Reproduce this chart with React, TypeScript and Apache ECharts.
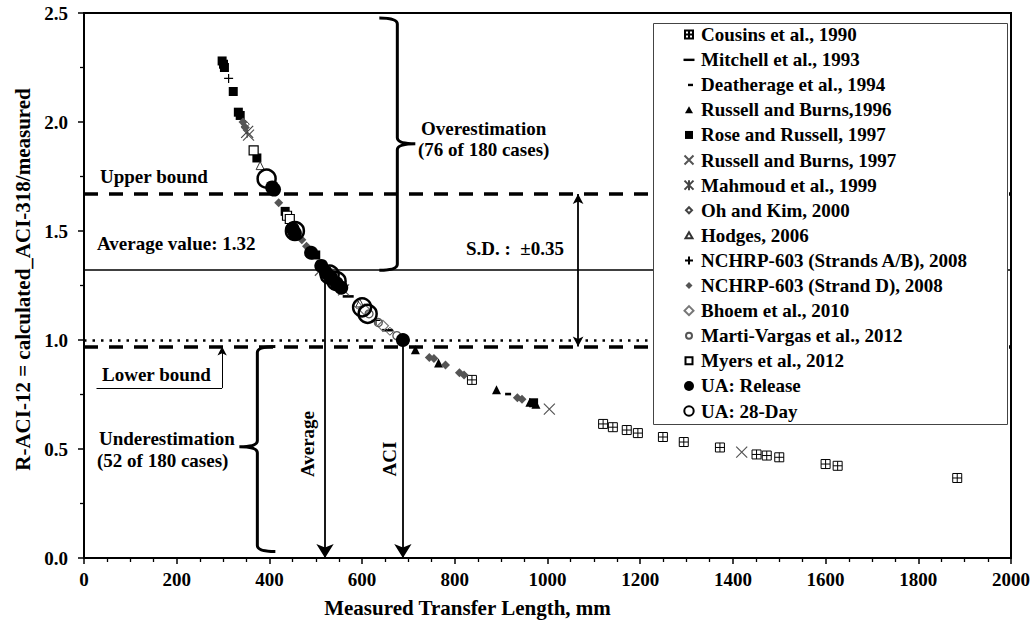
import React, { useEffect, useRef } from "react";
import * as echarts from "echarts";

// ---------- data (x = measured transfer length, mm ; y = ratio) ----------
const cousins1990 = [[837,0.817],[1120,0.615],[1141,0.600],[1171,0.587],[1195,0.573],[1249,0.555],[1294,0.532],[1372,0.507],[1451,0.475],[1473,0.470],[1500,0.462],[1600,0.431],[1626,0.423],[1884,0.367]];
const mitchell1993 = [[570,1.20],[655,1.045]];
const deatherage1994 = [[915,0.752]];
const russellBurns1996 = [[715,0.955],[765,0.895],[890,0.772],[962,0.715],[975,0.705]];
const roseRussell1997 = [[298,2.28],[301,2.265],[303,2.25],[322,2.14],[333,2.045],[337,2.03],[373,1.835],[434,1.59],[500,1.39],[545,1.26],[970,0.712]];
const russellBurns1997 = [[355,1.94],[510,1.32],[560,1.23],[1004,0.683],[1419,0.486]];
const mahmoud1999 = [[352,1.955],[525,1.30]];
const ohKim2000 = [[348,1.99],[590,1.16],[660,1.04]];
const hodges2006 = [[380,1.80],[555,1.24],[595,1.17]];
const nchrpAB2008 = [[312,2.20],[535,1.28],[630,1.09]];
const nchrpD2008 = [[343,2.00],[348,1.975],[420,1.63],[470,1.46],[480,1.43],[745,0.92],[755,0.915],[780,0.885],[810,0.85],[820,0.84],[935,0.735],[945,0.728]];
const bhoem2010 = [[605,1.14],[645,1.065]];
const martiVargas2012 = [[615,1.12],[635,1.08],[675,1.02]];
const myers2012 = [[366,1.87],[438,1.57],[444,1.555]];
const uaRelease = [[406,1.70],[410,1.69],[450,1.51],[455,1.49],[490,1.40],[512,1.34],[522,1.31],[532,1.29],[545,1.26],[555,1.24],[688,1.00]];
const ua28Day = [[394,1.74],[455,1.50],[530,1.30],[545,1.27],[600,1.15],[612,1.12]];

const AVERAGE = 1.32;
const SD = 0.35;
const UPPER = 1.67;
const LOWER = 0.97;
const ACI_RATIO = 1.0;
const AVERAGE_X = 520;
const ACI_X = 688;
const SD_X = 1066;
const LOWER_POINTER = { x0: 27, x1: 298, y: 0.78 };
const OVER_BRACE = { x: 676, top: 2.477, mid: 1.9, bottom: AVERAGE };
const UNDER_BRACE = { x: 374, top: LOWER, mid: 0.51, bottom: 0.03 };

const X_MIN = 0, X_MAX = 2000, X_STEP = 200;
const Y_MIN = 0, Y_MAX = 2.5, Y_STEP = 0.5;

const FONT = "'Liberation Serif', 'Times New Roman', serif";
const T = "rgba(0,0,0,0)";
const FRAME = "M0,0M12,12";

type S = { name: string; data: number[][]; symbol: string; size: number | number[]; style: any; icon: string };
const SERIES: S[] = [
  { name: "Cousins et al., 1990", data: cousins1990, symbol: "path://M0,0H10V10H0ZM5,0V10M0,5H10", size: 9, style: { color: T, borderColor: "#000", borderWidth: 1 }, icon: "M2,2H10V10H2ZM6,2V10M2,6H10" },
  { name: "Mitchell et al., 1993", data: mitchell1993, symbol: "path://M0,0H10V2.4H0Z", size: [11, 2.6], style: { color: "#000" }, icon: "M0.5,5H11.5V7.4H0.5Z" },
  { name: "Deatherage et al., 1994", data: deatherage1994, symbol: "path://M0,0H5V2.4H0Z", size: [6, 2.6], style: { color: "#000" }, icon: "M5,5H10V7.4H5Z" },
  { name: "Russell and Burns,1996", data: russellBurns1996, symbol: "triangle", size: 9, style: { color: "#000" }, icon: "M6,2.5L10,9.5H2Z" },
  { name: "Rose and Russell, 1997", data: roseRussell1997, symbol: "rect", size: 9, style: { color: "#000" }, icon: "M2,2H10V10H2Z" },
  { name: "Russell and Burns, 1997", data: russellBurns1997, symbol: "path://M0,0L10,10M10,0L0,10", size: 11, style: { color: T, borderColor: "#555", borderWidth: 1.2 }, icon: "M1.5,1.5L10.5,10.5M10.5,1.5L1.5,10.5" },
  { name: "Mahmoud et al., 1999", data: mahmoud1999, symbol: "path://M0,0L10,10M10,0L0,10M5,0V10", size: 12, style: { color: T, borderColor: "#444", borderWidth: 1.2 }, icon: "M1.5,1.5L10.5,10.5M10.5,1.5L1.5,10.5M6,1V11" },
  { name: "Oh and Kim, 2000", data: ohKim2000, symbol: "diamond", size: 8, style: { color: T, borderColor: "#444", borderWidth: 1 }, icon: "M6,3L9,6L6,9L3,6Z" },
  { name: "Hodges, 2006", data: hodges2006, symbol: "triangle", size: 8, style: { color: T, borderColor: "#333", borderWidth: 1 }, icon: "M6,3L9.5,9H2.5Z" },
  { name: "NCHRP-603 (Strands A/B), 2008", data: nchrpAB2008, symbol: "path://M5,0V10M0,5H10", size: 9, style: { color: T, borderColor: "#000", borderWidth: 1.2 }, icon: "M6,2V10M2,6H10" },
  { name: "NCHRP-603 (Strand D), 2008", data: nchrpD2008, symbol: "diamond", size: 9, style: { color: "#555" }, icon: "M6,2.5L9.5,6L6,9.5L2.5,6Z" },
  { name: "Bhoem et al., 2010", data: bhoem2010, symbol: "diamond", size: 11, style: { color: T, borderColor: "#777", borderWidth: 1.2 }, icon: "M6,1.5L10.5,6L6,10.5L1.5,6Z" },
  { name: "Marti-Vargas et al., 2012", data: martiVargas2012, symbol: "circle", size: 8, style: { color: T, borderColor: "#555", borderWidth: 1.3 }, icon: "M3,6A3,3 0 1,0 9,6A3,3 0 1,0 3,6Z" },
  { name: "Myers et al., 2012", data: myers2012, symbol: "rect", size: 9, style: { color: "#fff", borderColor: "#000", borderWidth: 1.2 }, icon: "M2.5,2.5H9.5V9.5H2.5Z" },
  { name: "UA: Release", data: uaRelease, symbol: "circle", size: 14, style: { color: "#000" }, icon: "M1,6A5,5 0 1,0 11,6A5,5 0 1,0 1,6Z" },
  { name: "UA: 28-Day", data: ua28Day, symbol: "circle", size: 18, style: { color: T, borderColor: "#000", borderWidth: 2.5 }, icon: "M1.3,6A4.7,4.7 0 1,0 10.7,6A4.7,4.7 0 1,0 1.3,6Z" },
];

function axisCommon() {
  return {
    axisLine: { show: true, lineStyle: { color: "#000", width: 2 } },
    axisTick: { show: true, inside: false, length: 6, lineStyle: { color: "#000", width: 1.5 } },
    splitLine: { show: false },
    minorSplitLine: { show: false },
  };
}

function buildOption() {
  const lineStyleBase = { color: "#000" };
  return {
    animation: false,
    backgroundColor: "#fff",
    grid: { left: 84, right: 24, top: 13, bottom: 70, show: true, borderColor: "#000", borderWidth: 2, backgroundColor: "transparent" },
    xAxis: {
      type: "value", min: X_MIN, max: X_MAX, interval: X_STEP,
      name: "Measured Transfer Length, mm", nameLocation: "middle", nameGap: 39,
      nameTextStyle: { fontFamily: FONT, fontWeight: "bold", fontSize: 21, color: "#000", padding: [0, 160, 0, 0] },
      ...axisCommon(),
      minorTick: { show: true, splitNumber: 4, length: 4, lineStyle: { color: "#000", width: 1.3 } },
      axisLabel: { fontFamily: FONT, fontWeight: "bold", fontSize: 19, color: "#000", margin: 12, formatter: (v: number) => String(v) },
    },
    yAxis: {
      type: "value", min: Y_MIN, max: Y_MAX, interval: Y_STEP,
      name: "R-ACI-12 = calculated_ACI-318/measured", nameLocation: "middle", nameGap: 51,
      nameTextStyle: { fontFamily: FONT, fontWeight: "bold", fontSize: 21, color: "#000", padding: [0, 0, 0, 12] },
      ...axisCommon(),
      minorTick: { show: true, splitNumber: 2, length: 4, lineStyle: { color: "#000", width: 1.3 } },
      axisLabel: { fontFamily: FONT, fontWeight: "bold", fontSize: 19, color: "#000", margin: 16, formatter: (v: number) => v.toFixed(1) },
    },
    legend: {
      show: true, orient: "vertical", left: 682, top: 22, padding: 0, itemGap: 0,
      itemWidth: 14, itemHeight: 12, selectedMode: false, z: 5,
      data: SERIES.map((s) => ({ name: s.name, icon: "path://" + FRAME + s.icon })),
      textStyle: { fontFamily: FONT, fontWeight: "bold", fontSize: 19, color: "#000", lineHeight: 25.1 },
    },
    series: [
      {
        type: "scatter", name: "__lines", data: [], z: 1, silent: true,
        markLine: {
          silent: true, animation: false, z: 1, symbol: ["none", "none"], label: { show: false },
          data: [
            [{ coord: [X_MIN, UPPER], lineStyle: { ...lineStyleBase, width: 3.5, type: [14, 11] } }, { coord: [X_MAX, UPPER] }],
            [{ coord: [X_MIN, AVERAGE], lineStyle: { ...lineStyleBase, width: 1.6, type: "solid" } }, { coord: [X_MAX, AVERAGE] }],
            [{ coord: [X_MIN, ACI_RATIO], lineStyle: { ...lineStyleBase, width: 2.5, type: [2.5, 6] } }, { coord: [X_MAX, ACI_RATIO] }],
            [{ coord: [X_MIN, LOWER], lineStyle: { ...lineStyleBase, width: 3.5, type: [14, 11] } }, { coord: [X_MAX, LOWER] }],
            [{ coord: [AVERAGE_X, AVERAGE], lineStyle: { ...lineStyleBase, width: 1.8, type: "solid" } }, { coord: [AVERAGE_X, Y_MIN], symbol: "arrow", symbolSize: [13, 14] }],
            [{ coord: [ACI_X, ACI_RATIO], lineStyle: { ...lineStyleBase, width: 1.8, type: "solid" } }, { coord: [ACI_X, Y_MIN], symbol: "arrow", symbolSize: [13, 14] }],
            [{ coord: [SD_X, UPPER], symbol: "arrow", symbolSize: [8, 10], lineStyle: { ...lineStyleBase, width: 1.8, type: "solid" } }, { coord: [SD_X, LOWER], symbol: "arrow", symbolSize: [8, 10] }],
            [{ coord: [LOWER_POINTER.x0, LOWER_POINTER.y], lineStyle: { ...lineStyleBase, width: 1, type: "solid" } }, { coord: [LOWER_POINTER.x1, LOWER_POINTER.y] }],
            [{ coord: [LOWER_POINTER.x1, LOWER_POINTER.y], lineStyle: { ...lineStyleBase, width: 1, type: "solid" } }, { coord: [LOWER_POINTER.x1, LOWER], symbol: "arrow", symbolSize: [7, 9] }],
          ],
        },
      },
      ...SERIES.map((s, i) => ({
        type: "scatter", name: s.name, data: s.data, symbol: s.symbol, symbolSize: s.size,
        itemStyle: { ...s.style, opacity: 1 }, z: 6 + i, silent: true,
      })),
    ],
  };
}

function bracePath(X: number, top: number, mid: number, bottom: number, dir: number) {
  // dir = +1 : tip to the right, hooks to the left ; -1 : opposite
  const h = 18 * dir, t = 18 * dir, r = 6;
  return `M${X - h},${top} Q${X},${top} ${X},${top + r} L${X},${mid - r} Q${X},${mid} ${X + t},${mid} Q${X},${mid} ${X},${mid + r} L${X},${bottom - r} Q${X},${bottom} ${X - h},${bottom}`;
}

export default function App() {
  const ref = useRef<HTMLDivElement>(null);
  useEffect(() => {
    const chart = echarts.init(ref.current!, null, { renderer: "svg" });
    chart.setOption(buildOption() as any);
    const px = (x: number, y: number) => chart.convertToPixel({ gridIndex: 0 }, [x, y]) as number[];

    const o1 = px(OVER_BRACE.x, OVER_BRACE.top), o2 = px(OVER_BRACE.x, OVER_BRACE.mid), o3 = px(OVER_BRACE.x, OVER_BRACE.bottom);
    const u1 = px(UNDER_BRACE.x, UNDER_BRACE.top), u2 = px(UNDER_BRACE.x, UNDER_BRACE.mid), u3 = px(UNDER_BRACE.x, UNDER_BRACE.bottom);
    echarts.graphic.registerShape("braceOver", echarts.graphic.extendPath(bracePath(o1[0], o1[1], o2[1], o3[1], 1), {}) as any);
    echarts.graphic.registerShape("braceUnder", echarts.graphic.extendPath(bracePath(u1[0], u1[1], u2[1], u3[1], -1), {}) as any);

    const txt = (text: string, x: number, y: number, extra: any = {}) => ({
      type: "text", x, y, z: 20, silent: true, ...extra,
      style: { text, fill: "#000", font: `bold 19px ${FONT}`, verticalAlign: "middle", align: "left", ...(extra.style || {}) },
    });

    const avgBottom = px(AVERAGE_X, Y_MIN);
    const aciBottom = px(ACI_X, Y_MIN);

    chart.setOption({
      graphic: [
        { type: "rect", z: 3, silent: true, shape: { x: 653.5, y: 23.5, width: 354, height: 401 }, style: { fill: "#fff", stroke: "#444", lineWidth: 1 } },
        { type: "braceOver", x: 0, y: 0, z: 4, silent: true, style: { fill: "none", stroke: "#000", lineWidth: 3 } },
        { type: "braceUnder", x: 0, y: 0, z: 4, silent: true, style: { fill: "none", stroke: "#000", lineWidth: 3 } },
        txt("Upper bound", 100, 176),
        txt("Average value: 1.32", 97, 243),
        txt("Lower bound", 102, 374),
        txt("Underestimation", 99, 438),
        txt("(52 of 180 cases)", 97, 460),
        txt("Overestimation", 421, 128),
        txt("(76 of 180 cases)", 418, 149),
        txt("S.D. :  \u00b10.35", 466, 248),
        txt("Average", avgBottom[0] - 18, 444, { rotation: Math.PI / 2, style: { align: "center" } }),
        txt("ACI", aciBottom[0] - 13, 459, { rotation: Math.PI / 2, style: { align: "center" } }),
      ],
    } as any);

    return () => chart.dispose();
  }, []);
  return <div ref={ref} style={{ position: "absolute", left: 0, top: 0, width: 1035, height: 628 }} />;
}
